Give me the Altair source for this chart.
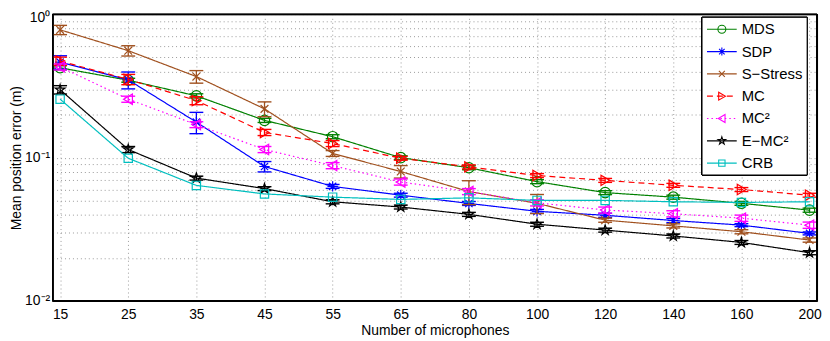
import altair as alt
import pandas as pd

# ---------------- data ----------------
mics = ["15", "25", "35", "45", "55", "65", "80", "100", "120", "140", "160", "200"]
series_names = ["MDS", "SDP", "S−Stress", "MC", "MC²", "E−MC²", "CRB"]

mds = [0.424, 0.347, 0.270, 0.182, 0.140, 0.100, 0.085, 0.068, 0.057, 0.053, 0.048, 0.043]
sdp = [0.464, 0.349, 0.177, 0.0867, 0.063, 0.0547, 0.0479, 0.0422, 0.0396, 0.0364, 0.0338, 0.0296]
sstress = [0.78, 0.558, 0.368, 0.219, 0.107, 0.080, 0.058, 0.048, 0.0366, 0.0334, 0.0304, 0.0266]
mc = [0.472, 0.352, 0.250, 0.150, 0.1255, 0.099, 0.0862, 0.075, 0.0694, 0.0641, 0.0599, 0.0547]
mc2 = [0.430, 0.256, 0.170, 0.114, 0.088, 0.0676, 0.058, 0.0484, 0.0431, 0.0406, 0.0378, 0.0338]
emc2 = [0.298, 0.114, 0.072, 0.0608, 0.0492, 0.0452, 0.0402, 0.0343, 0.0312, 0.0284, 0.0256, 0.0217]
crb = [0.256, 0.099, 0.064, 0.0558, 0.053, 0.0511, 0.0524, 0.0503, 0.0503, 0.0492, 0.0487, 0.0492]

mds_err = [0.014, 0.011, 0.009, 0.006, 0.0045, 0.003, 0.0027, 0.0022, 0.0018, 0.0017, 0.0015, 0.0014]
sdp_err = [0.05, 0.047, 0.030, 0.0072, 0.002, 0.0017, 0.0015, 0.0013, 0.0013, 0.0012, 0.0008, 0.0007]
sstress_err = [0.058, 0.046, 0.037, 0.026, 0.005, 0.008, 0.011, 0.0073, 0.0012, 0.0011, 0.001, 0.0009]
mc_err = [0.031, 0.029, 0.016, 0.0074, 0.006, 0.003, 0.0028, 0.0024, 0.0022, 0.002, 0.0019, 0.0017]
mc2_err = [0.021, 0.0125, 0.008, 0.0056, 0.0043, 0.0033, 0.0028, 0.0024, 0.0021, 0.002, 0.0019, 0.0017]
emc2_err = [0.02, 0.0056, 0.0023, 0.0019, 0.0016, 0.0014, 0.0013, 0.0011, 0.001, 0.0009, 0.0008, 0.0007]
crb_err = [0.0] * 12

all_vals = [mds, sdp, sstress, mc, mc2, emc2, crb]
all_errs = [mds_err, sdp_err, sstress_err, mc_err, mc2_err, emc2_err, crb_err]

# ---------------- styles ----------------
colors = ["#008000", "#0000ff", "#a0501e", "#ff0000", "#ff00ff", "#000000", "#00bfbf"]
dash_list = [[1, 0], [1, 0], [1, 0], [6, 4], [1.5, 3], [1, 0], [1, 0]]

marker_paths = [
    "M1,0A1,1 0 1,1 -1,0A1,1 0 1,1 1,0Z",
    "M-1,0L1,0M0,-1L0,1M-0.7,-0.7L0.7,0.7M-0.7,0.7L0.7,-0.7",
    "M-0.75,-0.75L0.75,0.75M-0.75,0.75L0.75,-0.75",
    "M-0.8,-1L0.9,0L-0.8,1Z",
    "M0.8,-1L-0.9,0L0.8,1Z",
    "M0,-1L0.225,-0.309L0.951,-0.309L0.363,0.118L0.588,0.809L0,0.382L-0.588,0.809L-0.363,0.118L-0.951,-0.309L-0.225,-0.309Z",
    "M-0.8,-0.8L0.8,-0.8L0.8,0.8L-0.8,0.8Z",
]

rows = []
for name, vals, errs in zip(series_names, all_vals, all_errs):
    for m, v, e in zip(mics, vals, errs):
        rows.append({"series": name, "mics": m, "value": v, "lo": v - e, "hi": v + e, "err": e})
df = pd.DataFrame(rows)
legend_df = pd.DataFrame({"series": series_names})

FONT = "Liberation Sans"
yvals = [k * 10.0 ** e for e in (-2, -1) for k in range(1, 10)] + [1.0]

yaxis = alt.Axis(
    values=yvals,
    labelExpr="datum.value == 1 ? '10⁰' : datum.value == 0.1 ? '10⁻¹' : datum.value == 0.01 ? '10⁻²' : ''",
    labelOverlap=False, labelFlush=False,
    labelOffset={"condition": {"test": "datum.value == 1", "value": 3}, "value": 0},
    grid=True, gridDash=[1, 3], gridColor="#9a9a9a", gridWidth=1,
    ticks=False, domain=True, domainColor="black", domainWidth=1,
    labelFont=FONT, labelFontSize=14, labelColor="black", labelPadding=3,
    title="Mean position error (m)", titleFont=FONT, titleFontSize=14,
    titleFontWeight="normal", titleColor="black", titlePadding=1,
)
xaxis = alt.Axis(
    grid=True, gridDash=[1, 3], gridColor="#9a9a9a", gridWidth=1,
    ticks=False, domain=True, domainColor="black", domainWidth=1, labelAngle=0,
    labelFont=FONT, labelFontSize=14, labelColor="black", labelPadding=7,
    title="Number of microphones", titleFont=FONT, titleFontSize=14,
    titleFontWeight="normal", titleColor="black", titlePadding=2,
)
yscale = alt.Scale(type="log", domain=[0.01, 1])
xscale = alt.Scale(type="point", domain=mics, padding=0.11)

X = alt.X("mics:N", scale=xscale, axis=xaxis, sort=mics)
Y = alt.Y("value:Q", scale=yscale, axis=yaxis)
STROKE = alt.Stroke("series:N", scale=alt.Scale(domain=series_names, range=colors), legend=None)
FILL = alt.Fill("series:N", scale=alt.Scale(domain=series_names, range=colors), legend=None)

base = alt.Chart(df)
layers = []
for i, name in enumerate(series_names):
    sub = base.transform_filter(alt.datum.series == name)
    line = sub.mark_line(strokeWidth=1.2, strokeDash=dash_list[i])
    layers.append(line.encode(x=X, y=Y, stroke=STROKE))
    errsub = sub.transform_filter(alt.datum.err > 0)
    layers.append(errsub.mark_rule(strokeWidth=1.3).encode(
        x=X, y=alt.Y("lo:Q", scale=yscale, axis=yaxis), y2="hi:Q", stroke=STROKE))
    for fld in ("lo", "hi"):
        layers.append(errsub.mark_tick(orient="horizontal", size=14, thickness=1.4, opacity=1).encode(
            x=X, y=alt.Y(f"{fld}:Q", scale=yscale, axis=yaxis), fill=FILL))
    layers.append(sub.mark_point(shape=marker_paths[i], filled=False, size=110,
                                 strokeWidth=1.2, opacity=1).encode(x=X, y=Y, stroke=STROKE))

# plot frame (box around the plot area)
layers.append(alt.Chart(legend_df).mark_rect(fill="transparent", stroke="black", strokeWidth=1).encode(
    x=alt.value(0), x2=alt.value("width"), y=alt.value(0), y2=alt.value("height")))
main = alt.layer(*layers)

# ---------------- legend (drawn inside the plot, top right) ----------------
LY = alt.Y("series:N", scale=alt.Scale(type="point", domain=series_names, range=[15, 150], padding=0), axis=None)
lbase = alt.Chart(legend_df)
leg_box = lbase.mark_rect(fill="white", stroke="black", strokeWidth=1).encode(
    x=alt.value(655), x2=alt.value(761), y=alt.value(3), y2=alt.value(162))
leg_lines = lbase.mark_rule(strokeWidth=1.2).encode(
    x=alt.value(660), x2=alt.value(690), y=LY, stroke=STROKE,
    strokeDash=alt.StrokeDash("series:N", scale=alt.Scale(domain=series_names, range=dash_list), legend=None))
leg_marks = lbase.mark_point(filled=False, size=64, strokeWidth=1.1, opacity=1).encode(
    x=alt.value(675), y=LY, stroke=STROKE,
    shape=alt.Shape("series:N", scale=alt.Scale(domain=series_names, range=marker_paths), legend=None))
leg_text = lbase.mark_text(align="left", baseline="middle", font=FONT, fontSize=15, color="black").encode(
    x=alt.value(695), y=LY, text="series:N")
legend = alt.layer(leg_box, leg_lines, leg_marks, leg_text)

chart = alt.layer(main, legend).resolve_scale(y="independent").properties(
    width=771, height=289, background="white",
    autosize=alt.AutoSizeParams(type="none"),
    padding={"left": 45, "top": 5, "right": 5, "bottom": 38},
).configure_view(stroke="black", strokeWidth=1)

chart.save("out.html", embed_options={"renderer": "svg", "actions": False})
